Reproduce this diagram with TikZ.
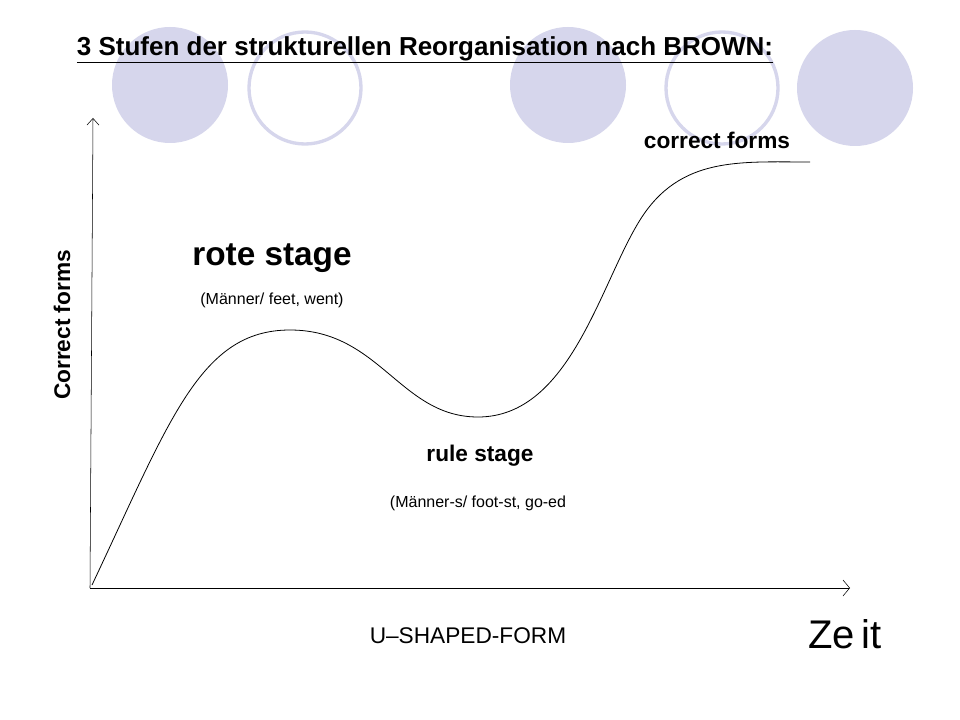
\documentclass[tikz,border=0pt]{standalone}
\usepackage{fontspec}
\setmainfont{Liberation Sans}
\usetikzlibrary{arrows.meta}
\definecolor{lav}{HTML}{D6D6EC}
\tikzset{fillc/.style={fill=lav,draw=none},ringc/.style={draw=lav,line width=2.5pt},
 lbl/.style={inner sep=0pt,anchor=center}}
\begin{document}
\begin{tikzpicture}[x=0.75pt,y=-0.75pt]
\useasboundingbox[fill=white] (0,0) rectangle (960,720);
\fill[fillc] (170,85) circle (58);
\draw[ringc] (305,88) circle (56);
\fill[fillc] (568,85) circle (58);
\draw[ringc] (722,88) circle (56);
\fill[fillc] (855,88) circle (58);
\coordinate (o) at (90,588);
\coordinate (ytop) at (93,118);
\coordinate (xend) at (850,588);
\draw[-{Straight Barb[length=5pt,width=9pt]}] (o) -- (ytop);
\draw[-{Straight Barb[length=5pt,width=12pt]}] (o) -- (xend);
\draw[line width=0.6pt] (92,585) .. controls (170,420) and (200,330) .. (290,330)
 .. controls (380,330) and (400,417) .. (478,417)
 .. controls (570,417) and (600,284) .. (640,220)
 .. controls (680,156) and (740,162) .. (810,162);
\node[lbl] (title) at (425,50) {\fontsize{19.5pt}{22pt}\selectfont\bfseries\underline{3 Stufen der strukturellen Reorganisation nach BROWN:}};
\node[lbl] (cf) at (717,140) {\fontsize{17pt}{19pt}\selectfont\bfseries correct forms};
\node[lbl] (rote) at (272,258) {\fontsize{25pt}{28pt}\selectfont\bfseries rote stage};
\node[lbl] (rotex) at (272,300) {\fontsize{12pt}{14pt}\selectfont (Männer/ feet, went)};
\node[lbl] (rule) at (480,456) {\fontsize{17pt}{19pt}\selectfont\bfseries rule stage};
\node[lbl] (rulex) at (478,503) {\fontsize{12pt}{14pt}\selectfont (Männer-s/ foot-st, go-ed};
\node[lbl,rotate=90] (yl) at (62,325) {\fontsize{17pt}{19pt}\selectfont\bfseries Correct forms};
\node[lbl] (u) at (468,636) {\fontsize{17pt}{19pt}\selectfont U–SHAPED-FORM};
\node[lbl] (zeit) at (845,634) {\fontsize{30pt}{33pt}\selectfont Ze\,it};
\end{tikzpicture}
\end{document}
